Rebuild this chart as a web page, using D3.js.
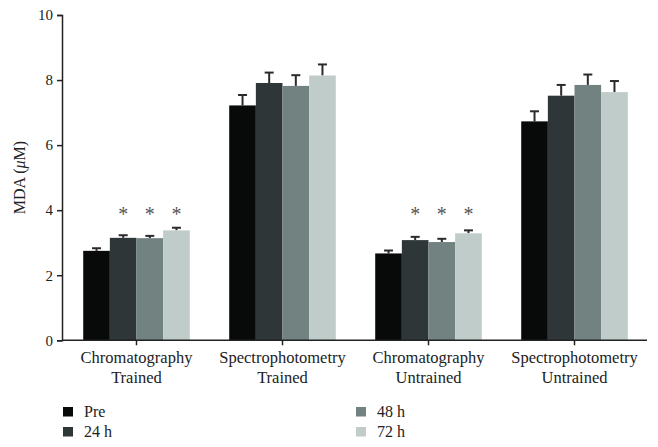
<!DOCTYPE html>
<html><head><meta charset="utf-8">
<script src="https://cdn.jsdelivr.net/npm/d3@7/dist/d3.min.js"></script>
<style>body{margin:0;background:#fff}svg{display:block}text{font-family:"Liberation Serif","Times New Roman",serif;fill:#222}</style>
</head><body><svg id="c" width="658" height="447"></svg>
<script>
const categories = [["Chromatography","Trained"],["Spectrophotometry","Trained"],["Chromatography","Untrained"],["Spectrophotometry","Untrained"]];
const seriesNames = ["Pre","24 h","48 h","72 h"];
const colors = ["#070a09","#2e3638","#718280","#c0ccc9"];
const means = [
  [2.75,3.15,3.14,3.38],
  [7.22,7.91,7.82,8.14],
  [2.67,3.08,3.02,3.29],
  [6.73,7.52,7.85,7.63]
];
const errors = [
  [0.08,0.08,0.07,0.08],
  [0.32,0.32,0.33,0.34],
  [0.09,0.10,0.10,0.09],
  [0.31,0.33,0.32,0.34]
];
const stars = [
  [false,true,true,true],
  [false,false,false,false],
  [false,true,true,true],
  [false,false,false,false]
];
const starLevel = 3.96;
const yTicks = [0,2,4,6,8,10];

const svg = d3.select("#c");
const y = d3.scaleLinear().domain([0,10]).range([340.3,15]);
const x0 = d3.scaleBand().domain(d3.range(categories.length)).range([63.5,647.5]).paddingInner(0).paddingOuter(0);
const x1 = d3.scaleBand().domain(d3.range(seriesNames.length)).range([0,x0.bandwidth()]).paddingInner(0).paddingOuter(0.74);

// bars
const g = svg.append("g");
categories.forEach((c,i)=>{
  seriesNames.forEach((s,j)=>{
    const xx = x0(i)+x1(j);
    const top = y(means[i][j]);
    const et = y(means[i][j]+errors[i][j]);
    const cx = xx + x1.bandwidth()/2;
    g.append("line").attr("x1",cx).attr("x2",cx).attr("y1",top).attr("y2",et).attr("stroke","#2b2b2b").attr("stroke-width",2);
    g.append("line").attr("x1",cx-4.5).attr("x2",cx+4.5).attr("y1",et).attr("y2",et).attr("stroke","#2b2b2b").attr("stroke-width",2);
    g.append("rect").attr("x",xx).attr("y",top).attr("width",x1.bandwidth()).attr("height",y(0)-top).attr("fill",colors[j]);
    if(stars[i][j]) g.append("text").attr("x",cx).attr("y",y(starLevel)+10).attr("text-anchor","middle").style("font-size","20px").style("fill","#555").text("*");
  });
});

// y axis
const ya = svg.append("g").attr("transform","translate(62,0)").call(d3.axisLeft(y).tickValues(yTicks).tickSize(5).tickPadding(4));
ya.attr("font-family","Liberation Serif").attr("font-size",15);
ya.select(".domain").attr("stroke","#222").attr("stroke-width",1.5);
ya.selectAll(".tick line").attr("stroke","#222").attr("stroke-width",1.5);
ya.selectAll(".tick text").style("font-size","15px").style("font-family","Liberation Serif").attr("fill","#222");

// x axis
const xa = svg.append("g").attr("transform","translate(0,340.3)").call(d3.axisBottom(x0).tickSize(5).tickFormat(""));
xa.select(".domain").attr("d","M62,0H647").attr("stroke","#222").attr("stroke-width",1.5);
xa.selectAll(".tick line").attr("stroke","#222").attr("stroke-width",1.5);
categories.forEach((c,i)=>{
  const t = svg.append("text").attr("x",x0(i)+x0.bandwidth()/2).attr("text-anchor","middle").style("font-size","16.5px");
  t.append("tspan").attr("x",x0(i)+x0.bandwidth()/2).attr("y",363).text(c[0]);
  t.append("tspan").attr("x",x0(i)+x0.bandwidth()/2).attr("y",383).text(c[1]);
});

// y label
const yl = svg.append("text").attr("transform","translate(25,177.6) rotate(-90)").attr("text-anchor","middle").style("font-size","16px");
yl.append("tspan").text("MDA (");
yl.append("tspan").style("font-style","italic").text("μ");
yl.append("tspan").text("M)");

// legend
const legPos = [[63,407],[63,427],[356,407],[356,427]];
seriesNames.forEach((s,j)=>{
  const [lx,ly] = legPos[j];
  svg.append("rect").attr("x",lx).attr("y",ly).attr("width",10).attr("height",9.5).attr("fill",colors[j]);
  svg.append("text").attr("x",lx+21).attr("y",ly+9.5).style("font-size","16px").text(s);
});
</script></body></html>
